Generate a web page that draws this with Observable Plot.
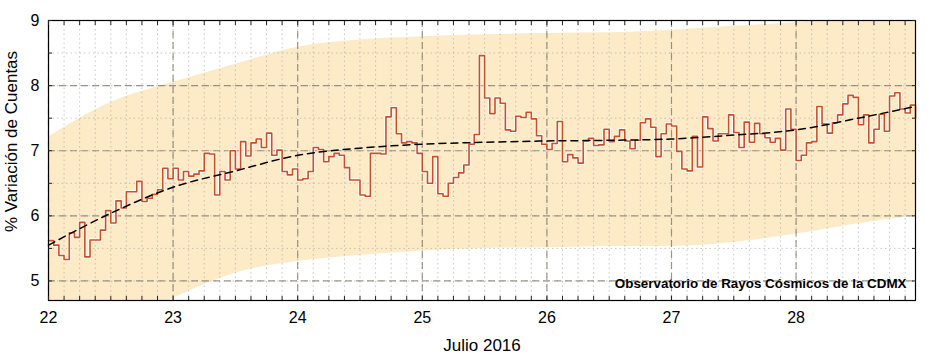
<!DOCTYPE html>
<html><head><meta charset="utf-8">
<script src="https://cdn.jsdelivr.net/npm/d3@7"></script>
<script src="https://cdn.jsdelivr.net/npm/@observablehq/plot@0.6"></script>
<style>
body{margin:0;background:#fff;}
svg{font-family:"Liberation Sans",Arial,sans-serif;}
</style>
</head><body><div id="chart"></div>
<script>
// Hourly % count variation, 22 July 2016 00:00 -> 28 July 2016 23:00
const startDay = 22;
const hourlyValues = [
 5.62,5.55,5.39,5.33,5.74,5.67,5.90,5.37,5.63,5.63,5.78,6.08,5.89,6.23,6.12,6.37,6.37,6.53,6.22,6.27,6.33,6.40,6.73,6.57,
 6.73,6.55,6.68,6.61,6.64,6.69,6.96,6.95,6.32,6.68,6.55,7.00,6.72,7.14,6.92,7.12,7.18,7.05,7.27,6.93,7.01,6.68,6.63,6.72,
 6.55,6.57,6.68,7.05,7.02,6.83,6.91,6.96,6.93,6.74,6.55,6.55,6.32,6.30,6.96,6.96,6.95,7.52,7.66,7.26,7.12,7.14,7.12,6.96,
 6.68,6.50,6.91,6.34,6.30,6.50,6.59,6.66,6.78,7.10,7.25,8.46,7.81,7.57,7.81,7.73,7.32,7.30,7.53,7.51,7.59,7.49,7.23,7.10,
 7.02,7.11,7.45,6.83,6.94,6.89,6.81,7.15,7.19,7.08,7.09,7.33,7.14,7.22,7.32,7.15,7.03,7.16,7.43,7.49,7.36,6.91,7.26,7.41,
 7.38,6.99,6.72,6.69,7.22,6.75,7.52,7.34,7.15,7.26,7.26,7.55,7.28,7.05,7.44,7.13,7.42,7.26,7.20,7.13,7.19,7.01,7.64,7.33,
 6.85,6.93,7.12,7.14,7.68,7.41,7.27,7.43,7.55,7.72,7.85,7.82,7.40,7.55,7.12,7.33,7.56,7.30,7.84,7.89,7.64,7.58,7.70,7.50
];
// Fitted trend (dashed) and confidence band, sampled every half day
const fitDays   = [22, 22.5, 23, 23.5, 24, 24.5, 25, 25.5, 26, 26.5, 27, 27.5, 28, 28.5, 28.958];
const fitValues = [5.55, 6.04, 6.44, 6.69, 6.93, 7.04, 7.10, 7.13, 7.15, 7.16, 7.18, 7.24, 7.32, 7.50, 7.68];
const bandLower = [3.40, 4.20, 4.73, 5.12, 5.30, 5.39, 5.46, 5.50, 5.51, 5.53, 5.53, 5.59, 5.72, 5.88, 6.00];
const bandUpper = [7.21, 7.74, 8.05, 8.33, 8.59, 8.70, 8.75, 8.78, 8.80, 8.81, 8.85, 8.91, 8.97, 9.05, 9.12];
const xTickLabels = [22, 23, 24, 25, 26, 27, 28];
const yTickLabels = [5, 6, 7, 8, 9];
const xLabel = "Julio 2016";
const yLabel = "% Variación de Cuentas";
const note = "Observatorio de Rayos Cósmicos de la CDMX";

const series = hourlyValues.map((v, i) => ({x: startDay + i / 24, y: v}));
const fit = fitDays.map((d, i) => ({x: d, y: fitValues[i]}));
const band = fitDays.map((d, i) => ({x: d, lo: bandLower[i], hi: bandUpper[i]}));
const xMinor = d3.range(22, 29, 0.125);
const yMinor = [5, 5.5, 6, 6.5, 7, 7.5, 8, 8.5, 9];
const xDomainEnd = startDay + (hourlyValues.length - 1) / 24;

const chart = Plot.plot({
  width: 927, height: 358,
  marginLeft: 48, marginRight: 12, marginTop: 20, marginBottom: 58,
  x: {domain: [22, xDomainEnd]},
  y: {domain: [4.7, 9]},
  style: {fontFamily: '"Liberation Sans", Arial, sans-serif', fontSize: "16px", color: "#000", background: "#fff", overflow: "visible"},
  marks: [
    Plot.areaY(band, {x: "x", y1: "lo", y2: "hi", fill: "#fdebc8", curve: "monotone-x", clip: true}),
    Plot.gridX(xMinor, {stroke: "#9a9a9a", strokeOpacity: 0.55, strokeDasharray: "1.5,3"}),
    Plot.gridY(yMinor, {stroke: "#9a9a9a", strokeOpacity: 0.55, strokeDasharray: "1.5,3"}),
    Plot.gridX(xTickLabels, {stroke: "#857d72", strokeOpacity: 0.8, strokeWidth: 1.2, strokeDasharray: "7,4"}),
    Plot.gridY(yTickLabels, {stroke: "#857d72", strokeOpacity: 0.8, strokeWidth: 1.2, strokeDasharray: "7,4"}),
    Plot.lineY(series, {x: "x", y: "y", curve: "step-after", stroke: "#fff", strokeWidth: 3.6, strokeOpacity: 0.75}),
    Plot.lineY(series, {x: "x", y: "y", curve: "step-after", stroke: "#c8502b", strokeWidth: 1.6}),
    Plot.line(fit, {x: "x", y: "y", curve: "monotone-x", stroke: "#000", strokeWidth: 1.5, strokeDasharray: "7,5"}),
    Plot.frame({stroke: "#000", strokeWidth: 1.2}),
    Plot.axisX(xMinor, {anchor: "bottom", tickSize: -4, fill: "none", stroke: "#222"}),
    Plot.axisX(xMinor, {anchor: "top", tickSize: -4, fill: "none", stroke: "#222"}),
    Plot.axisY(yMinor, {anchor: "left", tickSize: -4, fill: "none", stroke: "#222"}),
    Plot.axisY(yMinor, {anchor: "right", tickSize: -4, fill: "none", stroke: "#222"}),
    Plot.axisX(xTickLabels, {anchor: "bottom", tickSize: 0, tickPadding: 11, label: null, fontSize: 16, tickFormat: d => String(d)}),
    Plot.axisY(yTickLabels, {anchor: "left", tickSize: 0, tickPadding: 9, label: null, fontSize: 16, tickFormat: d => String(d)}),
    Plot.text([xLabel], {text: d => d, frameAnchor: "bottom", dy: 45, fontSize: 17, textAnchor: "middle", lineAnchor: "middle"}),
    Plot.text([yLabel], {text: d => d, frameAnchor: "left", rotate: -90, dx: -37, dy: -19, fontSize: 17, textAnchor: "middle", lineAnchor: "middle"}),
    Plot.text([note], {text: d => d, frameAnchor: "bottom-right", dx: -9, dy: -17, textAnchor: "end", lineAnchor: "middle", fontWeight: "bold", fontSize: 13.4})
  ]
});
document.getElementById("chart").append(chart);
</script>
</body></html>
